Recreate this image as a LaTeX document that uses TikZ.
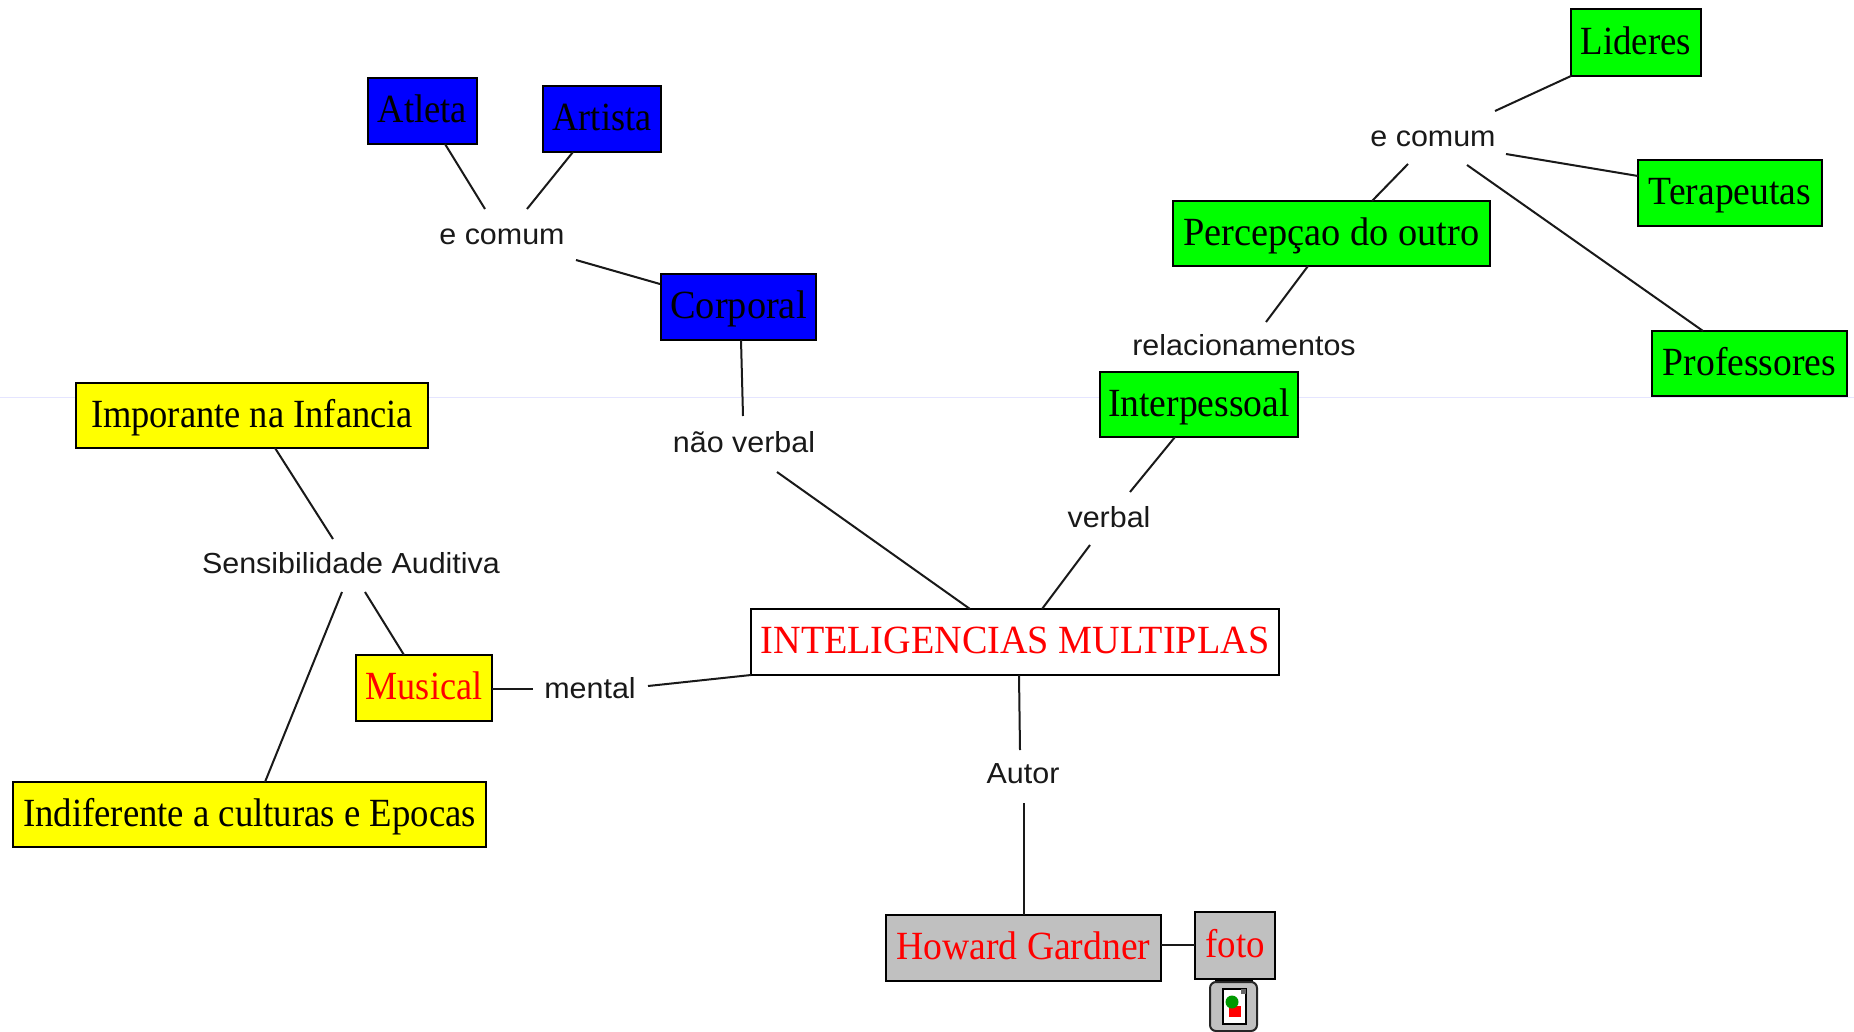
\documentclass[tikz,border=0pt]{standalone}
\usepackage{fontspec}
\usepackage{graphicx}
\usetikzlibrary{calc}
\newfontfamily\boxserif[FakeStretch=0.94]{Liberation Serif}
\newfontfamily\labsans[FakeStretch=1.05]{Liberation Sans}
\definecolor{mygreen}{RGB}{0,255,0}
\definecolor{myyellow}{RGB}{255,255,0}
\definecolor{myblue}{RGB}{0,0,255}
\definecolor{myred}{RGB}{255,0,0}
\definecolor{mygray}{RGB}{192,192,192}
\definecolor{myline}{RGB}{25,25,25}
\tikzset{
  x=1pt,y=-1pt,
  bx/.style={draw=black,line width=2.8pt,inner sep=0pt,text height=32pt,text depth=8.2pt,font=\boxserif\fontsize{40}{40}\selectfont,text=black},
  yel/.style={bx,fill=myyellow},
  blu/.style={bx,fill=myblue},
  grn/.style={bx,fill=mygreen},
  gry/.style={bx,fill=mygray,text=myred},
  lab/.style={inner sep=0pt,font=\labsans\fontsize{29}{29}\selectfont,text=black!90},
  conn/.style={draw=myline,line width=2pt}
}
\newcommand{\conn}[4]{\draw[conn] ($(#1)+(#2)$) -- ($(#3)+(#4)$);}
\newcommand{\sx}[2]{\scalebox{#1}[1]{#2}}
\begin{document}
\begin{tikzpicture}
\useasboundingbox[fill=white] (0,0) rectangle (1854,1032);
\draw[blue!10,line width=1pt] (0,397) -- (1854,397);
% boxes
\node[blu,minimum width=109pt,minimum height=66pt] (atleta) at (422.5,111) {\sx{.97}{Atleta}};
\node[blu,minimum width=118pt,minimum height=66pt] (artista) at (602,119) {\sx{.96}{Artista}};
\node[blu,minimum width=155pt,minimum height=66pt] (corporal) at (738.5,307) {\sx{1.02}{Corporal}};
\node[yel,minimum width=352pt,minimum height=65pt] (imp) at (252,415.5) {\sx{.97}{Imporante na Infancia}\hspace{6pt}};
\node[yel,text=myred,minimum width=136pt,minimum height=66pt] (musical) at (424,688) {\sx{.96}{Musical}};
\node[yel,minimum width=473pt,minimum height=65pt] (indif) at (249.5,814.5) {\sx{.977}{Indiferente a culturas e Epocas}};
\node[bx,fill=white,text=myred,minimum width=528pt,minimum height=66pt] (main) at (1015,642) {\sx{1.015}{INTELIGENCIAS MULTIPLAS}};
\node[gry,minimum width=275pt,minimum height=66pt] (howard) at (1023.5,948) {Howard Gardner};
\node[gry,minimum width=80pt,minimum height=67pt] (foto) at (1235,945.5) {\sx{.98}{foto}};
\node[grn,minimum width=198pt,minimum height=65pt] (interp) at (1199,404.5) {Interpessoal};
\node[grn,minimum width=317pt,minimum height=65pt] (perc) at (1331.5,233.5) {\sx{1.02}{Percepçao do outro}};
\node[grn,minimum width=130pt,minimum height=67pt] (lideres) at (1636,42.5) {\sx{.98}{Lideres}};
\node[grn,minimum width=184pt,minimum height=66pt] (terap) at (1730,193) {Terapeutas};
\node[grn,minimum width=195pt,minimum height=65pt] (prof) at (1749.5,363.5) {Professores};
% labels
\node[lab] (ecomA) at (502,236.4) {e comum};
\node[lab] (ecomB) at (1433,138.4) {e comum};
\node[lab] (naov) at (744,442) {não verbal};
\node[lab] (relac) at (1244,345) {relacionamentos};
\node[lab] (verbal) at (1109,517) {verbal};
\node[lab] (sens) at (351,563) {Sensibilidade Auditiva};
\node[lab] (mental) at (590,688) {mental};
\node[lab] (autor) at (1023,774) {Autor};
% connectors
\conn{atleta}{22.5,33}{ecomA}{-17,-27.4}
\conn{artista}{-29,33}{ecomA}{25,-27.4}
\conn{ecomA}{74,23.6}{corporal}{-78.5,-23}
\conn{corporal}{2.5,33}{naov}{-1,-26}
\conn{naov}{33,30}{main}{-45,-33}
\conn{verbal}{-19,28}{main}{27,-33}
\conn{verbal}{21,-25}{interp}{-24,32.5}
\conn{relac}{22,-23}{perc}{-23.5,32.5}
\conn{perc}{40.5,-32.5}{ecomB}{-25,25.6}
\conn{ecomB}{62,-27.4}{lideres}{-65,33.5}
\conn{ecomB}{73,15.6}{terap}{-92,-17}
\conn{ecomB}{34,26.6}{prof}{-46.5,-32.5}
\conn{imp}{23,32.5}{sens}{-18,-24}
\conn{sens}{-9,29}{indif}{15.5,-32.5}
\conn{sens}{14,29}{musical}{-20,-33}
\conn{musical}{68,1}{mental}{-57,1}
\conn{mental}{58,-2}{main}{-264,33}
\conn{main}{4,33}{autor}{-3,-24}
\conn{autor}{1,29}{howard}{.5,-33}
\conn{howard}{137.5,-3}{foto}{-40,-.5}
% attachment icon
\fill[black] (1215,978) rectangle (1253,982);
\draw[black!85,line width=2pt,fill=mygray,rounded corners=6pt] (1210,982) rectangle (1257,1031);
\draw[black,line width=2pt,fill=white] (1223,989) rectangle (1246,1024);
\fill[black!60] (1241,989) rectangle (1246,994);
\fill[myred] (1229,1006) rectangle (1241,1017);
\fill[green!60!black] (1232,1002) circle (6.5);
\end{tikzpicture}
\end{document}
